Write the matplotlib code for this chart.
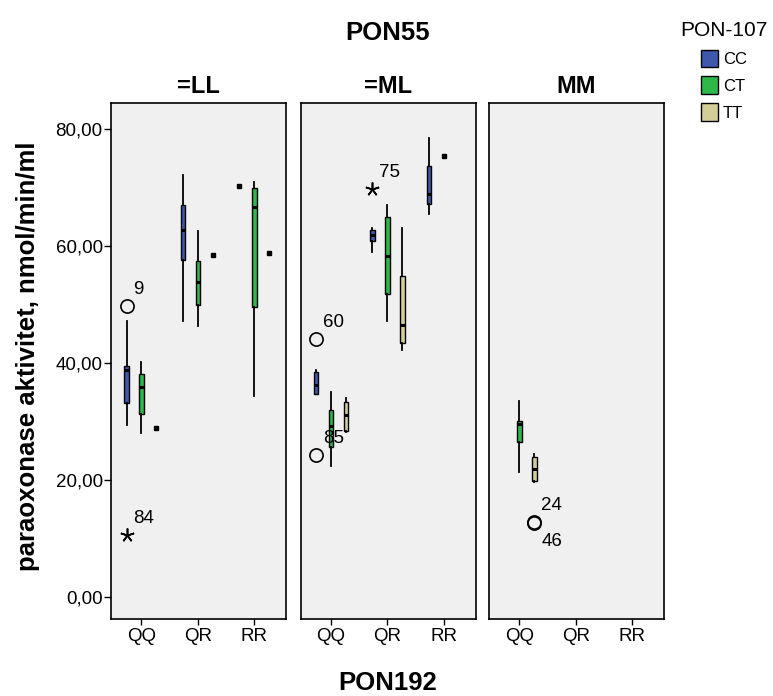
import matplotlib
matplotlib.use('Agg')
from matplotlib import pyplot as plt
from matplotlib.patches import Patch
from matplotlib.ticker import FuncFormatter

plt.rcParams['font.family'] = ['Liberation Sans', 'DejaVu Sans']

# facets (PON55), x categories (PON192), box groups (PON-107)
panels = ['=LL', '=ML', 'MM']
pon192 = ['QQ', 'QR', 'RR']
pon107 = ['CC', 'CT', 'TT']

# boxes: panel index, PON192 index, PON-107 index, whisker low, q1, median, q3, whisker high
box_panel = [0, 0, 0, 0, 0, 1, 1, 1, 1, 1, 1, 1, 2, 2]
box_cat = [0, 0, 1, 1, 2, 0, 0, 0, 1, 1, 1, 2, 0, 0]
box_geno = [0, 1, 0, 1, 1, 0, 1, 2, 0, 1, 2, 0, 1, 2]
box_lo = [29.4, 28.0, 47.2, 46.3, 34.4, 34.7, 22.3, 28.2, 58.9, 47.1, 42.2, 65.5, 21.3, 19.7]
box_q1 = [33.1, 31.3, 57.5, 49.9, 49.5, 34.7, 25.7, 28.4, 60.9, 51.8, 43.4, 67.1, 26.4, 19.8]
box_med = [38.7, 35.8, 62.7, 53.9, 66.7, 36.2, 29.2, 31.1, 61.9, 58.3, 46.5, 68.8, 29.6, 21.8]
box_q3 = [39.5, 38.1, 67.0, 57.4, 69.9, 38.5, 31.9, 33.4, 62.7, 65.0, 54.9, 73.6, 30.1, 24.0]
box_hi = [47.2, 40.2, 72.1, 62.6, 70.9, 38.7, 35.1, 34.0, 63.0, 67.0, 63.0, 78.4, 33.5, 24.4]

# groups with a single case (drawn as a dot)
single_panel = [0, 0, 0, 0, 1]
single_cat = [0, 1, 2, 2, 2]
single_geno = [2, 2, 0, 2, 1]
single_val = [28.8, 58.5, 70.3, 58.7, 75.4]

# outliers (o) and extremes (*) with case numbers
out_panel = [0, 0, 1, 1, 1, 2, 2]
out_cat = [0, 0, 0, 0, 1, 0, 0]
out_geno = [0, 0, 0, 0, 0, 2, 2]
out_val = [49.7, 10.6, 44.0, 24.3, 69.7, 12.8, 12.6]
out_kind = ['o', '*', 'o', 'o', '*', 'o', 'o']
out_label = ['9', '84', '60', '85', '75', '24', '46']

colors = ['#3E58AC', '#2EB848', '#D3CE97']
offset = 0.265

fig = plt.figure(figsize=(7.73, 6.96), dpi=100)
W, H = 773, 696
lefts = [111, 300.5, 489]
axs = [fig.add_axes([l / W, 1 - 619 / H, 175 / W, 516 / H]) for l in lefts]

for p, ax in enumerate(axs):
    ax.set_facecolor('#F0F0F0')
    for i in range(len(box_panel)):
        if box_panel[i] != p:
            continue
        x = box_cat[i] + (box_geno[i] - 1) * offset
        stats = [dict(med=box_med[i], q1=box_q1[i], q3=box_q3[i],
                      whislo=box_lo[i], whishi=box_hi[i], fliers=[])]
        ax.bxp(stats, positions=[x], widths=0.085, patch_artist=True,
               showfliers=False, showcaps=False, manage_ticks=False,
               boxprops=dict(facecolor=colors[box_geno[i]], edgecolor='black', linewidth=1),
               medianprops=dict(color='black', linewidth=2.2, solid_capstyle='butt'),
               whiskerprops=dict(color='black', linewidth=1.3))
    for i in range(len(single_panel)):
        if single_panel[i] != p:
            continue
        x = single_cat[i] + (single_geno[i] - 1) * offset
        ax.plot(x, single_val[i], 's', color='black', markersize=2.6)
    for i in range(len(out_panel)):
        if out_panel[i] != p:
            continue
        x = out_cat[i] + (out_geno[i] - 1) * offset
        if out_kind[i] == 'o':
            ax.plot(x, out_val[i], 'o', mfc='none', mec='black', markersize=9.5, mew=1.2)
        else:
            ax.plot(x, out_val[i], marker=(5, 2, 0), color='black', markersize=10, mew=1.2)
        below = out_label[i] == '46'
        ax.annotate(out_label[i], (x, out_val[i]), xytext=(5, -13 if below else 12),
                    textcoords='offset points', ha='left', va='center', fontsize=13.5)

    ax.set_xlim(-0.54, 2.56)
    ax.set_ylim(-3.76, 84.4)
    ax.set_xticks(range(3))
    ax.set_xticklabels(pon192, fontsize=13.5)
    ax.set_title(panels[p], fontsize=17, fontweight='bold', pad=7)
    ax.tick_params(axis='both', direction='out', length=4, width=1, colors='black', pad=2.5)
    for s in ax.spines.values():
        s.set_linewidth(1.2)
    if p == 0:
        ax.set_yticks([0, 20, 40, 60, 80])
        ax.yaxis.set_major_formatter(FuncFormatter(lambda v, pos: f'{v:.2f}'.replace('.', ',')))
        ax.tick_params(axis='y', labelsize=13.5, length=5, pad=1)
    else:
        ax.set_yticks([])

fig.text(388 / W, 1 - 33 / H, 'PON55', ha='center', va='center', fontsize=18.5, fontweight='bold')
fig.text(388 / W, 1 - 683 / H, 'PON192', ha='center', va='center', fontsize=18.5, fontweight='bold')
fig.text(28 / W, 1 - 356 / H, 'paraoxonase aktivitet, nmol/min/ml', ha='center', va='center',
         rotation=90, fontsize=18.5, fontweight='bold')

handles = [Patch(facecolor=c, edgecolor='black', linewidth=1) for c in colors]
fig.legend(handles, pon107, title='PON-107', loc='upper center',
           bbox_to_anchor=(724 / W, 1 - 8 / H), frameon=False, fontsize=12,
           title_fontsize=15, handlelength=1.0, handleheight=1.25,
           handletextpad=0.3, labelspacing=0.55, borderpad=0.3)

fig.savefig('out.png', dpi=100)
